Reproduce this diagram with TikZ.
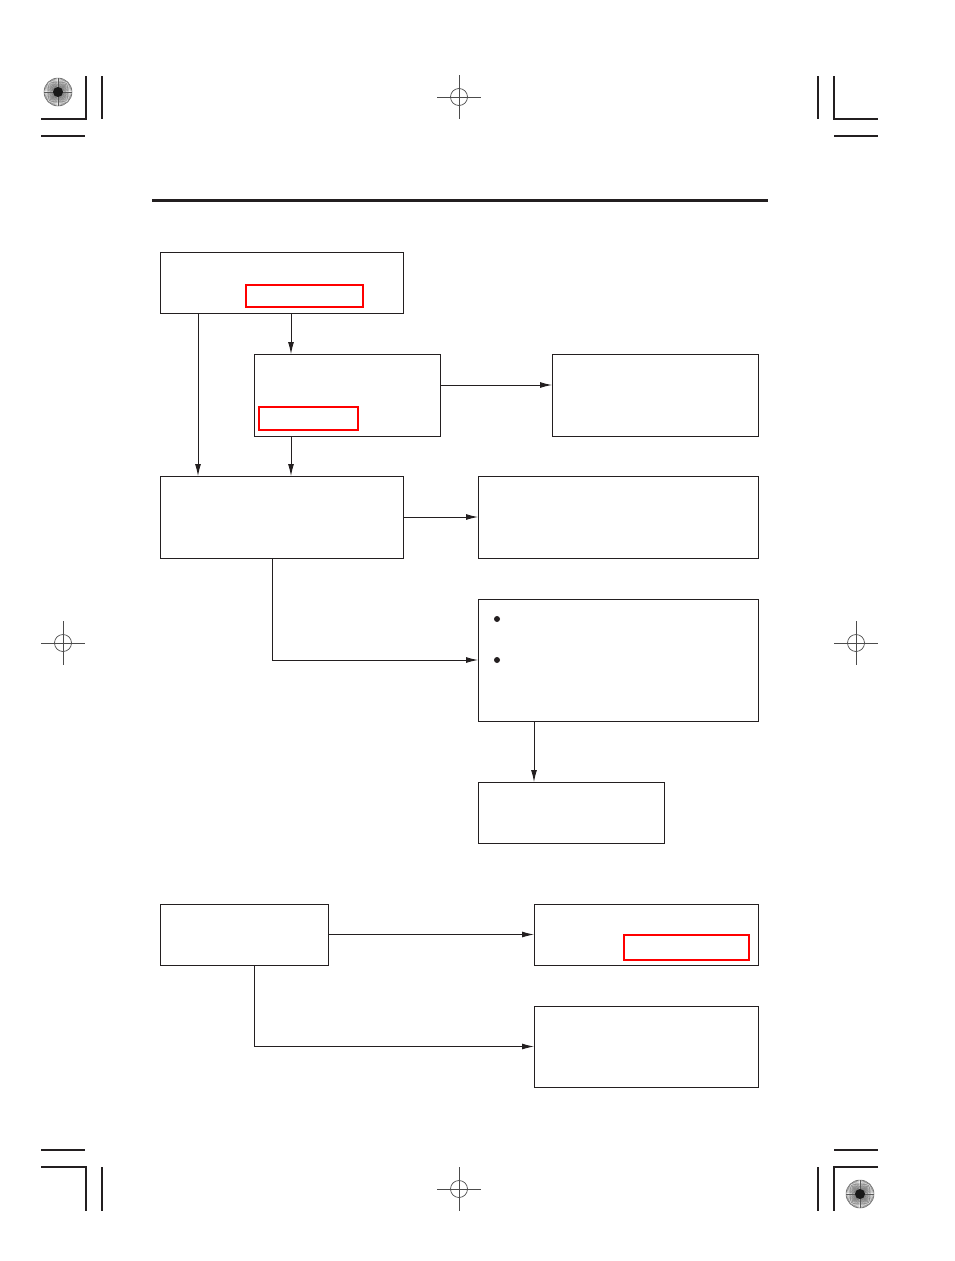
\documentclass[tikz,border=0pt]{standalone}
\usetikzlibrary{arrows.meta}
\definecolor{ink}{HTML}{231F20}
\definecolor{redline}{HTML}{FF0000}
\tikzset{
  box/.style={draw=ink, line width=1pt, inner sep=0pt, outer sep=0pt, rectangle},
  redbox/.style={draw=redline, line width=2pt, inner sep=0pt, outer sep=0pt, rectangle},
  arr/.style={draw=ink, line width=0.9pt, -{Latex[length=12pt,width=6pt]}},
  bulletdot/.style={circle, fill=ink, inner sep=0pt, minimum size=6pt},
  cornerline/.style={draw=ink, line width=1.2pt},
  regstar/.pic={
    \foreach \a in {0,5,...,355} \draw[line width=0.35pt, black!65] (0,0) -- (\a:14);
    \draw[line width=0.5pt, black!60] (0,0) circle (14);
    \fill[black!90] (0,0) circle (5);
  },
  crossmark/.pic={
    \draw[line width=0.7pt, black!70] (0,0) circle (8.5);
    \draw[line width=0.7pt, black!70] (-22,0) -- (22,0) (0,-22) -- (0,22);
  }
}
\begin{document}
\begin{tikzpicture}[x=1pt,y=-1pt]
\useasboundingbox (0,0) rectangle (954,1261);
% header rule
\draw[ink, line width=3pt] (152,200) -- (768,200);
% registration marks
\pic at (58,92) {regstar};
\pic at (860,1194) {regstar};
\pic at (459,97) {crossmark};
\pic at (459,1189) {crossmark};
\pic at (63,643) {crossmark};
\pic at (856,643) {crossmark};
% corner crop marks
\draw[cornerline] (86,76) -- (86,119) -- (41,119);
\draw[cornerline] (102,76) -- (102,119);
\draw[cornerline] (41,136) -- (85,136);
\draw[cornerline] (834,76) -- (834,119) -- (878,119);
\draw[cornerline] (818,76) -- (818,119);
\draw[cornerline] (834,136) -- (878,136);
\draw[cornerline] (41,1150) -- (85,1150);
\draw[cornerline] (41,1167) -- (86,1167) -- (86,1211);
\draw[cornerline] (102,1167) -- (102,1211);
\draw[cornerline] (834,1150) -- (878,1150);
\draw[cornerline] (878,1167) -- (834,1167) -- (834,1211);
\draw[cornerline] (818,1167) -- (818,1211);
% boxes
\node[box, minimum width=243pt, minimum height=61pt] (A) at (281.5,282.5) {};
\node[redbox, minimum width=117pt, minimum height=22pt] (A1) at (304.5,295.5) {};
\node[box, minimum width=186pt, minimum height=82pt] (B) at (347,395) {};
\node[redbox, minimum width=99pt, minimum height=23pt] (B1) at (308,418.5) {};
\node[box, minimum width=206pt, minimum height=82pt] (C) at (655,395) {};
\node[box, minimum width=243pt, minimum height=82pt] (D) at (281.5,517) {};
\node[box, minimum width=280pt, minimum height=82pt] (E) at (618,517) {};
\node[box, minimum width=280pt, minimum height=122pt] (F) at (618,660) {};
\node[bulletdot] (F1) at (497,619) {};
\node[bulletdot] (F2) at (497,660) {};
\node[box, minimum width=186pt, minimum height=61pt] (G) at (571,812.5) {};
\node[box, minimum width=168pt, minimum height=61pt] (H) at (244,934.5) {};
\node[box, minimum width=224pt, minimum height=61pt] (I) at (646,934.5) {};
\node[redbox, minimum width=125.5pt, minimum height=25pt] (I1) at (686.25,947.5) {};
\node[box, minimum width=224pt, minimum height=81pt] (J) at (646,1046.5) {};
% connector x positions
\coordinate (x1) at (198,0);
\coordinate (x2) at (291,0);
\coordinate (x3) at (272,0);
\coordinate (x4) at (534,0);
\coordinate (x5) at (254,0);
\coordinate (y1) at (0,385);
% connectors
\draw[arr] (A.south -| x1) -- (D.north -| x1);
\draw[arr] (A.south -| x2) -- (B.north -| x2);
\draw[arr] (B.south -| x2) -- (D.north -| x2);
\draw[arr] (B.east |- y1) -- (C.west |- y1);
\draw[arr] (D.east) -- (E.west);
\draw[arr] (D.south -| x3) |- (F.west);
\draw[arr] (F.south -| x4) -- (G.north -| x4);
\draw[arr] (H.east) -- (I.west);
\draw[arr] (H.south -| x5) |- (J.west);
\end{tikzpicture}
\end{document}
